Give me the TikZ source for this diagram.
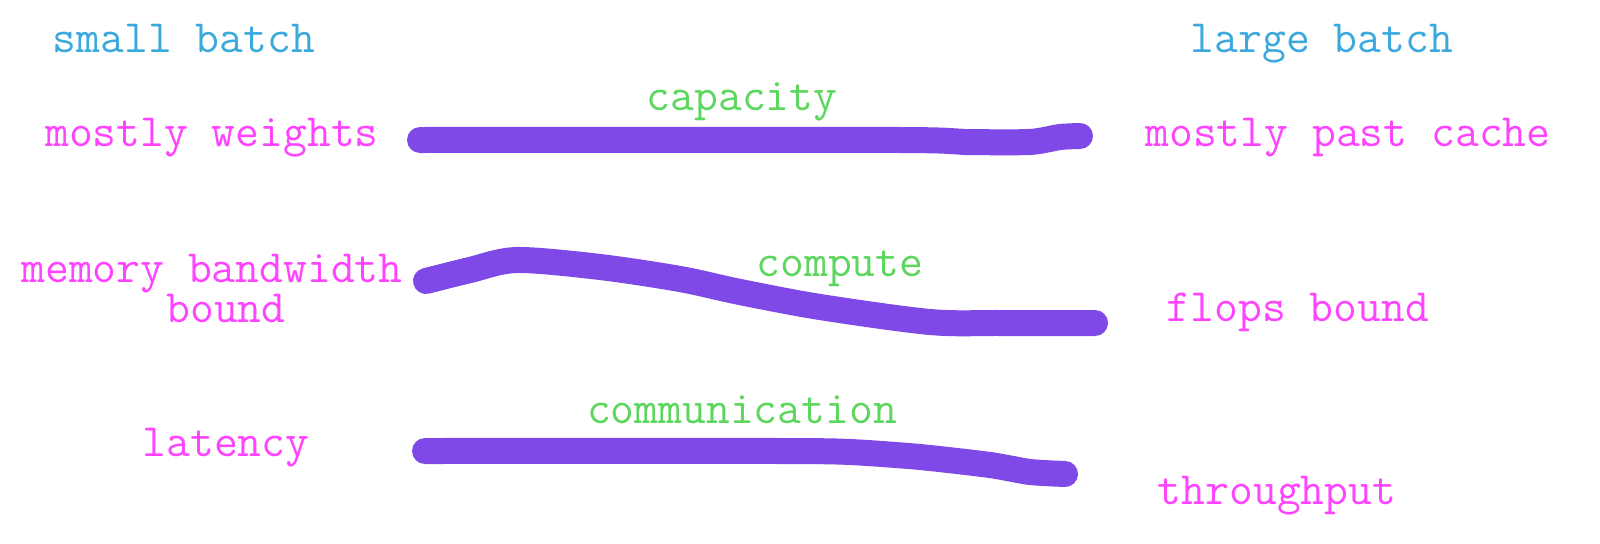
\documentclass[tikz,border=0pt]{standalone}
\usepackage{fontspec}
\usepackage{xcolor}
\usepackage{tikz}

\definecolor{batchblue}{RGB}{59,169,221}
\definecolor{tradepink}{RGB}{255,68,255}
\definecolor{axisgreen}{RGB}{92,214,92}
\definecolor{strokepurple}{RGB}{127,73,232}

\newcommand{\lblfont}{\ttfamily\fontsize{34.7}{29.5}\selectfont\lineskiplimit=-20pt\relax}

\tikzset{
  lbl/.style={anchor=base,inner sep=0pt,font=\lblfont,align=center},
  batchlbl/.style={lbl,text=batchblue},
  tradelbl/.style={lbl,text=tradepink},
  axislbl/.style={lbl,text=axisgreen},
  stroke/.style={draw=strokepurple,line width=19.5pt,line cap=round,line join=round}
}

\begin{document}
\begin{tikzpicture}[x=0.75pt,y=0.75pt,yscale=-1,xscale=1]
\path (0,0) rectangle (1600,543); %set diagram size

% Text Node
\node [batchlbl] (small) at (184,52) {small batch};
% Text Node
\node [batchlbl] (large) at (1322,52) {large batch};

% capacity row
\node [tradelbl] (weights) at (212,146) {mostly weights};
\node [tradelbl] (cache) at (1348,146) {mostly past cache};
\node [axislbl] (capacity) at (742,110) {capacity};
\coordinate (capL) at (420,140);
\coordinate (capR) at (1080,136);
\draw [stroke] plot [smooth,tension=0.4] coordinates {(capL) (900,140) (965,142) (1030,142) (1060,137) (capR)};

% compute row
\node [tradelbl] (membw) at (212,322) {memory bandwidth\\\hspace*{21pt}bound};
\node [tradelbl] (flops) at (1298,321) {flops bound};
\node [axislbl] (compute) at (840,276) {compute};
\coordinate (compL) at (426,281);
\coordinate (compR) at (1095,323);
\draw [stroke] plot [smooth,tension=0.5] coordinates {(compL) (470,270) (517,260) (600,267) (680,279) (740,292) (820,307) (930,322) (1000,323) (compR)};

% communication row
\node [tradelbl] (latency) at (226,456) {latency};
\node [tradelbl] (throughput) at (1277,504) {throughput};
\node [axislbl] (communication) at (742,423) {communication};
\coordinate (commL) at (425,451);
\coordinate (commR) at (1065,474);
\draw [stroke] plot [smooth,tension=0.4] coordinates {(commL) (780,451) (850,452) (920,457) (990,465) (1030,472) (commR)};

\end{tikzpicture}
\end{document}
